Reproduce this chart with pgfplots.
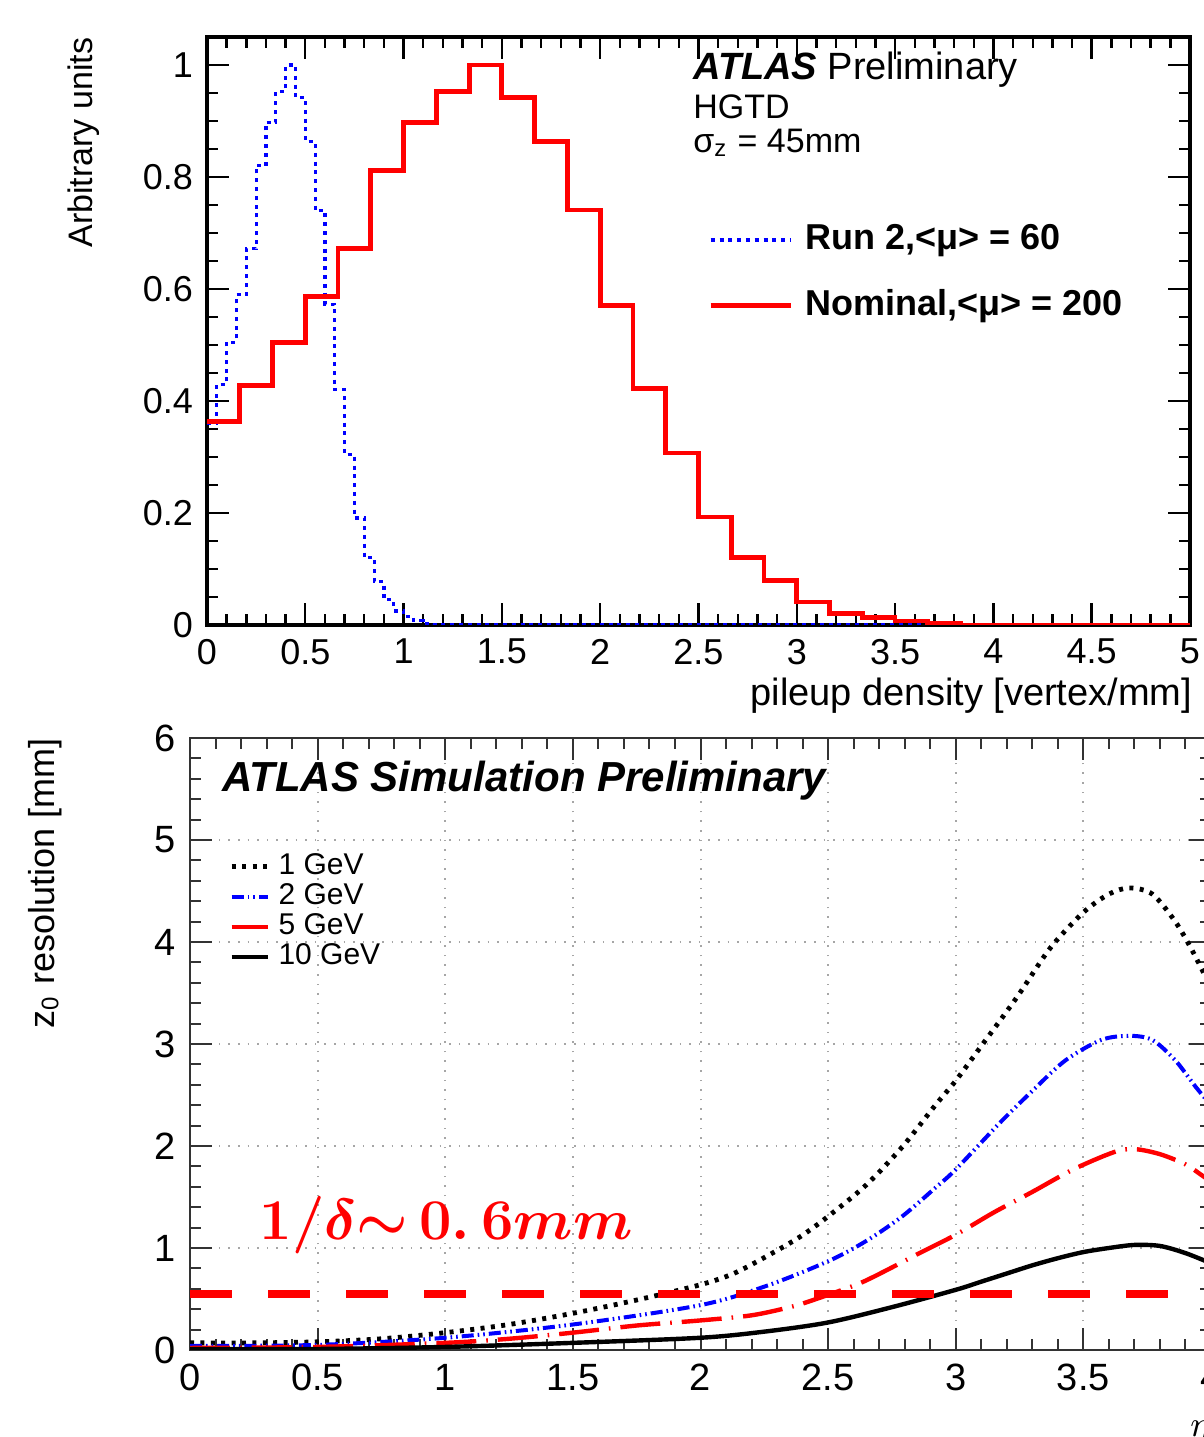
\documentclass[border=0pt]{standalone}
\usepackage{fontspec}
\setmainfont{Liberation Sans}
\usepackage{pgfplots}
\usepackage{pgfplotstable}
\pgfplotsset{compat=1.18}

% nominal <mu>=200, bins of 1/6 mm (left edge, height)
\pgfplotstableread{
x y
0.0000 0.364
0.1667 0.427
0.3333 0.505
0.5000 0.587
0.6667 0.672
0.8333 0.812
1.0000 0.898
1.1667 0.952
1.3333 1.000
1.5000 0.942
1.6667 0.863
1.8333 0.741
2.0000 0.571
2.1667 0.423
2.3333 0.307
2.5000 0.193
2.6667 0.121
2.8333 0.079
3.0000 0.041
3.1667 0.020
3.3333 0.013
3.5000 0.007
3.6667 0.002
3.8333 0.000
5.0000 0.000
}\nominal

% run 2 <mu>=60, bins of 0.05 mm
\pgfplotstableread{
x y
0.00 0.360
0.05 0.430
0.10 0.505
0.15 0.590
0.20 0.672
0.25 0.820
0.30 0.898
0.35 0.952
0.40 1.000
0.45 0.942
0.50 0.863
0.55 0.740
0.60 0.573
0.65 0.420
0.70 0.304
0.75 0.191
0.80 0.121
0.85 0.078
0.90 0.045
0.95 0.025
1.00 0.015
1.05 0.008
1.10 0.003
1.15 0.000
5.00 0.000
}\runtwo

\pgfplotstableread{
x y
0.00 0.07
0.25 0.07
0.50 0.08
0.75 0.11
1.00 0.17
1.25 0.25
1.50 0.36
1.75 0.49
2.00 0.64
2.13 0.75
2.26 0.92
2.39 1.11
2.50 1.31
2.65 1.62
2.79 1.99
2.92 2.40
3.00 2.64
3.10 2.98
3.24 3.46
3.37 3.94
3.50 4.29
3.60 4.47
3.68 4.53
3.77 4.47
3.86 4.20
3.93 3.90
4.00 3.55
}\gevone

\pgfplotstableread{
x y
0.00 0.04
0.50 0.05
1.00 0.12
1.50 0.25
2.00 0.44
2.26 0.63
2.50 0.87
2.65 1.07
2.79 1.31
2.92 1.59
3.00 1.77
3.17 2.22
3.30 2.54
3.43 2.84
3.57 3.04
3.68 3.08
3.77 3.04
3.86 2.84
3.94 2.58
4.00 2.40
}\gevtwo

\pgfplotstableread{
x y
0.00 0.02
0.50 0.03
1.00 0.07
1.25 0.11
1.50 0.17
1.75 0.24
2.00 0.29
2.20 0.34
2.35 0.42
2.43 0.48
2.60 0.63
2.68 0.72
2.82 0.90
2.85 0.94
3.00 1.13
3.15 1.35
3.30 1.55
3.46 1.77
3.62 1.94
3.70 1.97
3.80 1.92
3.90 1.82
3.96 1.72
4.00 1.65
}\gevfive

\pgfplotstableread{
x y
0.00 0.01
0.50 0.01
1.00 0.03
1.50 0.07
2.00 0.12
2.25 0.18
2.50 0.27
2.75 0.42
3.00 0.59
3.10 0.67
3.20 0.75
3.30 0.83
3.40 0.90
3.50 0.96
3.60 1.00
3.70 1.03
3.80 1.02
3.90 0.95
4.00 0.85
}\gevten

\begin{document}
\begin{tikzpicture}

% ---- top: pileup density ----
\begin{axis}[
at={(51.75pt,203pt)}, anchor=south west,
scale only axis, width=245.75pt, height=147pt,
xmin=0, xmax=5, ymin=0, ymax=1.05,
xtick={0,0.5,1,1.5,2,2.5,3,3.5,4,4.5,5},
ytick={0,0.2,0.4,0.6,0.8,1},
minor x tick num=4, minor y tick num=3,
tick align=inside,
major tick length=5.5pt, minor tick length=2.8pt,
every tick/.style={black, line width=0.6pt},
axis line style={line width=0.9pt},
/pgf/number format/assume math mode=true,
ticklabel style={font=\fontsize{9}{10}\selectfont},
ylabel={Arbitrary units},
ylabel style={at={(rel axis cs:-0.109,1)}, anchor=south east, inner sep=0pt, font=\fontsize{8.5}{9}\selectfont},
xlabel={pileup density [vertex/mm]},
xlabel style={at={(rel axis cs:1.003,0)}, anchor=north east, yshift=-13pt, inner sep=0pt, font=\fontsize{9.5}{10}\selectfont},
legend style={at={(0.497,0.703)}, anchor=north west, draw=none, fill=none,
  font=\bfseries\fontsize{9}{10}\selectfont, row sep=6.5pt,
  nodes={inner sep=1pt}, /tikz/column sep=2pt},
legend cell align=left,
legend image code/.code={\draw[#1] plot coordinates {(0pt,0pt) (20pt,0pt)};},
]
\addplot[const plot, blue, line width=0.8pt, dash pattern=on 1pt off 1.2pt] table {\runtwo};
\addlegendentry{Run 2,<μ> = 60}
\addplot[const plot, red, line width=1.2pt] table {\nominal};
\addlegendentry{Nominal,<μ> = 200}

\node[anchor=base west, inner sep=0pt, font=\fontsize{9.5}{10}\selectfont]
  at (rel axis cs:0.494,0.927) {\textbf{\itshape ATLAS} Preliminary};
\node[anchor=base west, inner sep=0pt, font=\fontsize{8.5}{9}\selectfont]
  at (rel axis cs:0.494,0.862) {HGTD};
\node[anchor=base west, inner sep=0pt, font=\fontsize{8.5}{9}\selectfont]
  at (rel axis cs:0.494,0.804) {σ\textsubscript{z} = 45mm};
\end{axis}

% ---- bottom: z0 resolution ----
\begin{axis}[
at={(47.5pt,21.75pt)}, anchor=south west,
scale only axis, width=255.25pt, height=153pt,
xmin=0, xmax=4, ymin=0, ymax=6,
xtick={0,0.5,1,1.5,2,2.5,3,3.5,4},
ytick={0,1,2,3,4,5,6},
minor x tick num=4, minor y tick num=4,
grid=major, grid style={gray!70, dotted, line width=0.5pt},
tick align=inside,
major tick length=5.5pt, minor tick length=2.8pt,
every tick/.style={black!80, line width=0.5pt},
axis line style={black!80, line width=0.7pt},
/pgf/number format/assume math mode=true,
ticklabel style={font=\fontsize{9.5}{10}\selectfont},
ylabel={z\textsubscript{0} resolution [mm]},
ylabel style={at={(rel axis cs:-0.125,1)}, anchor=south east, inner sep=0pt, font=\fontsize{9}{10}\selectfont},
xlabel={$\eta$},
xlabel style={at={(rel axis cs:1,0)}, anchor=north east, yshift=-17.5pt, inner sep=0pt, font=\fontsize{9.5}{10}\selectfont},
legend style={at={(0.026,0.83)}, anchor=north west, draw=none, fill=none,
  font=\fontsize{7.5}{8}\selectfont, row sep=-0.4pt,
  nodes={inner sep=0.6pt}, /tikz/column sep=1.5pt},
legend cell align=left,
legend image code/.code={\draw[#1] plot coordinates {(0pt,0pt) (9pt,0pt)};},
]
\addplot[smooth, black, line width=1.2pt, dash pattern=on 1pt off 1.6pt] table {\gevone};
\addlegendentry{1 GeV}
\addplot[smooth, blue, line width=1pt, dash pattern=on 3pt off 1pt on 0.4pt off 1pt on 0.4pt off 1pt] table {\gevtwo};
\addlegendentry{2 GeV}
\addplot[smooth, red, line width=1.1pt, dash pattern=on 10pt off 2.5pt on 0.4pt off 2.5pt] table {\gevfive};
\addlegendentry{5 GeV}
\addplot[smooth, black, line width=1.1pt] table {\gevten};
\addlegendentry{10 GeV}
\addplot[forget plot, red, line width=2pt, dash pattern=on 10.5pt off 9pt] coordinates {(0,0.55) (4,0.55)};

\node[anchor=base west, inner sep=0pt, font=\bfseries\itshape\fontsize{10.5}{11}\selectfont]
  at (rel axis cs:0.031,0.912) {ATLAS Simulation Preliminary};
\node[anchor=base west, inner sep=0pt, text=red, font=\boldmath\fontsize{14.5}{16}\selectfont]
  at (axis cs:0.27,1.08) {$1/\delta{\sim}\,0.\,6mm$};
\end{axis}

\pgfresetboundingbox
\path[use as bounding box] (0,0) rectangle (300.75pt,359.25pt);
\end{tikzpicture}
\end{document}
